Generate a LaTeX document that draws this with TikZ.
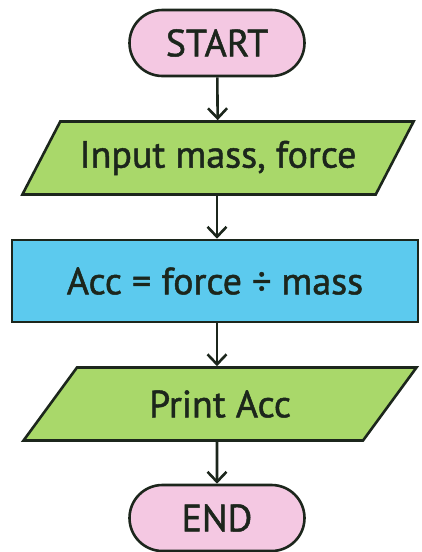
\documentclass[tikz,border=0pt]{standalone}
\usepackage{fontspec}
\setmainfont{PT Sans}[FakeBold=1.3]
\usetikzlibrary{shapes.geometric,shapes.misc,arrows.meta}
\definecolor{pinkfill}{HTML}{F4C8E2}
\definecolor{greenfill}{HTML}{A9D86A}
\definecolor{bluefill}{HTML}{5CCAEE}
\definecolor{inkcol}{HTML}{1C261C}
\tikzset{
  every node/.style={font=\fontsize{38}{44}\selectfont, text=inkcol},
  term/.style={draw=inkcol, line width=2.6pt, fill=pinkfill, rounded rectangle, minimum width=175pt, minimum height=66pt, inner sep=0pt},
  io/.style={draw=inkcol, line width=2.6pt, fill=greenfill, trapezium, trapezium left angle=46, trapezium right angle=134, trapezium stretches=true, minimum width=393pt, minimum height=73pt, inner sep=0pt},
  proc/.style={draw=inkcol, line width=2.6pt, fill=bluefill, rectangle, minimum width=406pt, minimum height=82pt, inner sep=0pt},
  flow/.style={draw=inkcol, line width=2.6pt, -{Straight Barb[length=10pt,width=19pt,line width=2.6pt]}}
}
\begin{document}
\begin{tikzpicture}[x=1pt,y=-1pt]
\useasboundingbox (0,0) rectangle (421,552);
\node[term] (start) at (217,43) {START};
\node[io] (input) at (218,158) {Input mass, force};
\node[proc] (calc) at (215,281) {Acc = force ÷ mass};
\node[io] (print) at (220,404) {Print Acc};
\node[term] (end) at (217,518) {END};
\draw[flow] (start) -- (input);
\draw[flow] (input.south -| start) -- (calc.north -| start);
\draw[flow] (calc.south -| start) -- (print.north -| start);
\draw[flow] (print.south -| start) -- (end);
\end{tikzpicture}
\end{document}
